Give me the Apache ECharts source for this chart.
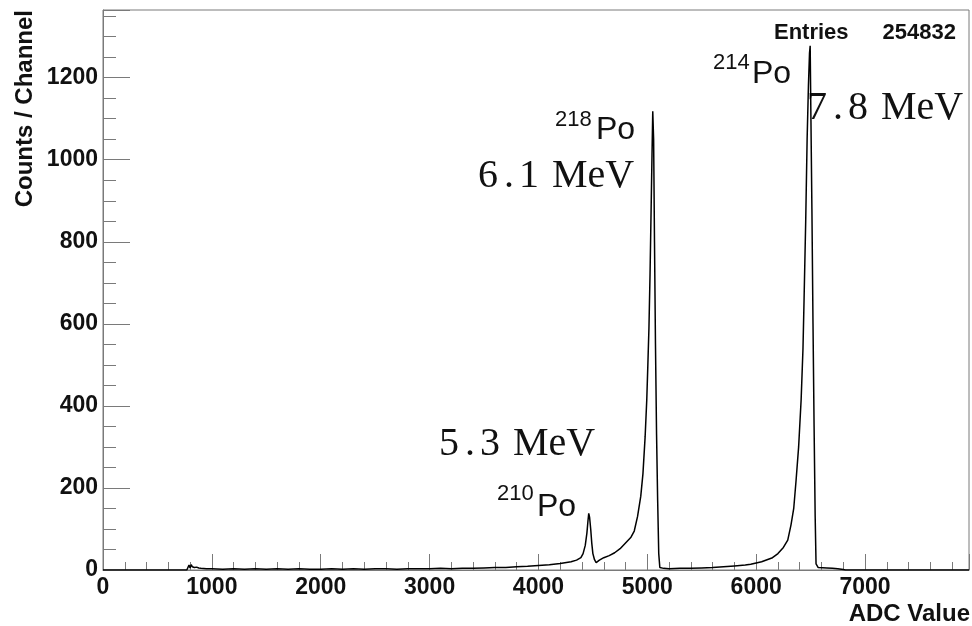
<!DOCTYPE html>
<html>
<head>
<meta charset="utf-8">
<title>ADC spectrum</title>
<script src="https://cdn.jsdelivr.net/npm/echarts@6/dist/echarts.min.js"></script>
<style>
  html, body { margin: 0; padding: 0; background: #fff; }
  #chart { width: 972px; height: 626px; }
</style>
</head>
<body>
<div id="chart"></div>
<script>
// ADC channel positions and counts
const adcValues = [
  0, 770, 780, 790, 800, 810, 820, 830, 840, 850, 860, 880, 900, 950, 1000,
  1100, 1200, 1300, 1400, 1500, 1600, 1700, 1800, 1900, 2000, 2100, 2200, 2300,
  2400, 2500, 2600, 2700, 2800, 2900, 3000, 3100, 3200, 3300, 3400, 3500,
  3600, 3700, 3800, 3900, 4000, 4100, 4200, 4300,
  4350, 4390, 4410, 4430, 4445, 4455, 4462, 4470, 4480, 4490, 4500, 4515, 4530,
  4560, 4600, 4650, 4700, 4750, 4800, 4850, 4880, 4910, 4940, 4960, 4980, 4995,
  5005, 5015, 5025, 5035, 5043, 5050, 5058, 5066, 5075, 5085, 5095, 5105, 5115,
  5150, 5200, 5300, 5400, 5500, 5600, 5700, 5800, 5900, 5950, 6000, 6050, 6100,
  6150, 6200, 6250, 6290, 6320, 6345, 6367, 6390, 6413, 6430, 6440, 6455, 6468,
  6480, 6490, 6496, 6503, 6512, 6522, 6532, 6542, 6550, 6570, 6650, 6700, 6750,
  6800, 6820, 7955
];
const counts = [
  0, 0, 6, 12, 5, 13, 8, 12, 6, 10, 7, 5, 4, 3, 3,
  2, 3, 2, 3, 2, 3, 2, 3, 2, 2, 3, 2, 3,
  2, 3, 3, 2, 3, 3, 3, 4, 3, 4, 4, 5,
  6, 6, 8, 9, 11, 13, 16, 20,
  24, 30, 40, 60, 90, 120, 138, 128, 100, 65, 40, 25, 18,
  24, 30, 35, 42, 52, 66, 80, 95, 130, 180, 235, 325, 415,
  500, 590, 720, 880, 1010, 1118, 1050, 800, 550, 330, 170, 40, 6,
  4, 3, 4, 4, 5, 6, 8, 10, 12, 14, 17, 20, 25,
  30, 40, 55, 73, 110, 150, 220, 300, 415, 540, 660, 850, 1050,
  1180, 1260, 1278, 1100, 880, 600, 350, 130, 15, 6, 5, 4, 3,
  1, 0, 0
];

const xMax = 7955;
const yMax = 1365;
const entries = '254832';

// peak labels: isotope mass number, energy (integer part, decimal)
const peakMass = ['214', '218', '210'];
const peakEnergy = [['7', '8'], ['6', '1'], ['5', '3']];

const axisGray = '#7a7a7a';
const sansFont = '"Liberation Sans", Arial, sans-serif';
const serifFont = '"Liberation Serif", "Times New Roman", serif';

const data = adcValues.map((x, i) => [x, counts[i]]);

function isoLabel(mass, supX, supY, poX, poY) {
  return [
    { type: 'text', left: supX, top: supY, style: { text: mass, font: '22px ' + sansFont, fill: '#111' } },
    { type: 'text', left: poX, top: poY, style: { text: 'Po', font: '32px ' + sansFont, fill: '#111' } }
  ];
}

// math-style energy label: "7.8 MeV" with wider spacing round the point
function energyLabel(e, x, y) {
  return {
    type: 'text', left: x, top: y,
    style: {
      text: '{n|' + e[0] + '}{p|.}{n|' + e[1] + '}{s| }{n|MeV}',
      fill: '#111',
      rich: {
        n: { font: '40px ' + serifFont, fill: '#111' },
        p: { font: '40px ' + serifFont, fill: '#111', padding: [0, 5, 0, 6] },
        s: { font: '40px ' + serifFont, padding: [0, 3, 0, 0] }
      }
    }
  };
}

const chart = echarts.init(document.getElementById('chart'), null, { renderer: 'canvas' });

chart.setOption({
  animation: false,
  backgroundColor: '#fff',
  grid: {
    left: 103, top: 10, right: 2, bottom: 56,
    show: true, borderColor: axisGray, borderWidth: 1, backgroundColor: 'transparent'
  },
  xAxis: {
    type: 'value',
    min: 0, max: xMax, interval: 1000,
    axisLine: { show: true, lineStyle: { color: axisGray } },
    axisTick: { show: true, inside: true, length: 16, lineStyle: { color: axisGray } },
    minorTick: { show: true, splitNumber: 5, length: 8, lineStyle: { color: axisGray } },
    splitLine: { show: false },
    axisLabel: {
      color: '#111', fontSize: 23, fontWeight: 'bold', fontFamily: sansFont,
      margin: 6,
      formatter: v => (v % 1000 === 0 ? String(v) : '')
    }
  },
  yAxis: {
    type: 'value',
    min: 0, max: yMax, interval: 200,
    axisLine: { show: true, lineStyle: { color: axisGray } },
    axisTick: { show: true, inside: true, length: 27, lineStyle: { color: axisGray } },
    minorTick: { show: true, splitNumber: 4, length: 13, lineStyle: { color: axisGray } },
    splitLine: { show: false },
    axisLabel: {
      color: '#111', fontSize: 23, fontWeight: 'bold', fontFamily: sansFont,
      margin: 5,
      formatter: v => (v % 200 === 0 ? String(v) : '')
    }
  },
  series: [{
    type: 'line',
    data: data,
    showSymbol: false,
    lineStyle: { color: '#000', width: 1.5 },
    clip: true
  }],
  graphic: [
    // axis titles
    {
      type: 'text', x: 25, y: 10, rotation: Math.PI / 2,
      style: { text: 'Counts / Channel', font: 'bold 24px ' + sansFont, align: 'right', verticalAlign: 'middle', fill: '#111' }
    },
    {
      type: 'text', x: 970, y: 614,
      style: { text: 'ADC Value', font: 'bold 24px ' + sansFont, align: 'right', verticalAlign: 'middle', fill: '#111' }
    },
    // stats box
    { type: 'text', x: 774, y: 33, style: { text: 'Entries', font: 'bold 22px ' + sansFont, align: 'left', verticalAlign: 'middle', fill: '#111' } },
    { type: 'text', x: 956, y: 33, style: { text: entries, font: 'bold 22px ' + sansFont, align: 'right', verticalAlign: 'middle', fill: '#111' } },
    // peak annotations
    ...isoLabel(peakMass[0], 713, 52, 752, 58),
    energyLabel(peakEnergy[0], 807, 88),
    ...isoLabel(peakMass[1], 555, 109, 596, 114),
    energyLabel(peakEnergy[1], 478, 156),
    ...isoLabel(peakMass[2], 497, 483, 537, 491),
    energyLabel(peakEnergy[2], 439, 424)
  ]
});
</script>
</body>
</html>
